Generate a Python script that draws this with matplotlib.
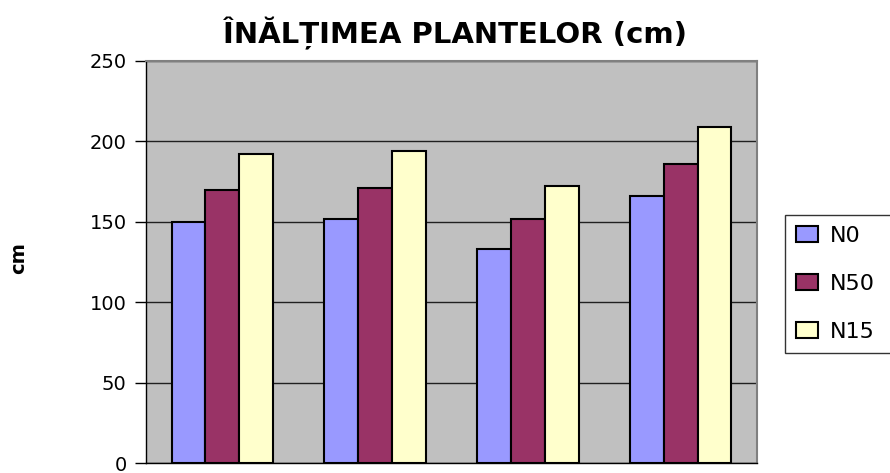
import numpy as np
import matplotlib.pyplot as plt

# data
groups = ['1', '2', '3', '4']
series_names = ['N0', 'N50', 'N15']
n0 = [150, 152, 133, 166]
n50 = [170, 171, 152, 186]
n150 = [192, 194, 172, 209]
colors = ['#9999FF', '#993366', '#FFFFCC']
yticks = [0, 50, 100, 150, 200, 250]

plt.rcParams['font.family'] = ['DejaVu Sans']

fig = plt.figure(figsize=(8.9, 4.73), dpi=100)
ax = fig.add_axes([146 / 890, 10 / 473, (757 - 146) / 890, (463 - 61) / 473])
ax.set_facecolor('#C0C0C0')

x = np.arange(len(groups))
w = 0.222
for i, vals in enumerate([n0, n50, n150]):
    ax.bar(x + (i - 1) * w, vals, w, color=colors[i], edgecolor='black',
           linewidth=1.5, label=series_names[i], zorder=3)

ax.set_xlim(-0.5, len(groups) - 0.5)
ax.set_ylim(0, 250)
ax.set_yticks(yticks)
ax.set_xticks([])
ax.yaxis.grid(True, color='#202020', linewidth=1, zorder=1)
ax.tick_params(axis='y', direction='out', length=8, width=1, labelsize=14, pad=6)

for s in ['left', 'bottom']:
    ax.spines[s].set_color('black')
    ax.spines[s].set_linewidth(1)
for s in ['top', 'right']:
    ax.spines[s].set_color('#808080')
    ax.spines[s].set_linewidth(1.5)

fig.text(455 / 890, 1 - 43 / 473, 'ÎNĂLȚIMEA PLANTELOR (cm)', ha='center',
         va='baseline', fontsize=21, fontweight='bold')
fig.text(19 / 890, 1 - 258 / 473, 'cm', rotation=90, ha='center', va='center',
         fontsize=14, fontweight='bold')

# legend sits partly outside the figure, as in the original
leg = fig.legend(loc='upper left', bbox_to_anchor=(785 / 890, 1 - 355 / 473, 0.2, 140 / 473),
                 mode='expand', borderaxespad=0, fontsize=16, frameon=True, fancybox=False,
                 handlelength=1.0, handleheight=0.75, handletextpad=0.5,
                 labelspacing=1.25, borderpad=0.5)
leg.get_frame().set_edgecolor('black')
leg.get_frame().set_linewidth(1)

plt.savefig('out.png', dpi=100)
